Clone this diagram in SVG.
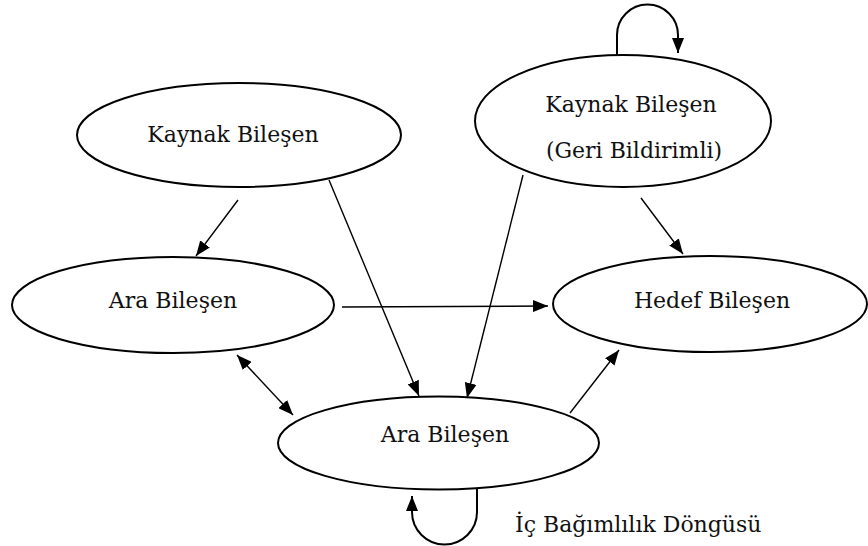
<svg xmlns="http://www.w3.org/2000/svg" width="868" height="546" viewBox="0 0 868 546">
  <style>
    .node { fill: #ffffff; stroke: #000000; stroke-width: 2; }
    .edge { fill: none; stroke: #000000; stroke-width: 1.4; marker-end: url(#arrow); }
    .loop { fill: none; stroke: #000000; stroke-width: 2; marker-end: url(#arrow); }
  </style>
  <defs>
    <marker id="arrow" viewBox="0 0 15 12" refX="15" refY="6" markerWidth="15" markerHeight="12" markerUnits="userSpaceOnUse" orient="auto-start-reverse">
      <path d="M0,0 L15,6 L0,12 z" fill="#000000"/>
    </marker>
  </defs>

  <rect width="868" height="546" fill="#ffffff"/>

  <g font-family="'DejaVu Serif', 'Liberation Serif', serif" font-size="22" fill="#111111" text-anchor="middle">
    <!-- components -->
    <g id="kaynak">
      <ellipse class="node" cx="239" cy="135" rx="162" ry="52"/>
      <text x="233" y="142">Kaynak Bileşen</text>
    </g>
    <g id="kaynak-geri">
      <ellipse class="node" cx="623" cy="121" rx="148" ry="66"/>
      <text x="631" y="112">Kaynak Bileşen</text>
      <text x="634" y="158">(Geri Bildirimli)</text>
    </g>
    <g id="ara-sol">
      <ellipse class="node" cx="173" cy="305" rx="161" ry="48"/>
      <text x="173" y="308">Ara Bileşen</text>
    </g>
    <g id="hedef">
      <ellipse class="node" cx="710" cy="304" rx="157" ry="48"/>
      <text x="712" y="308">Hedef Bileşen</text>
    </g>
    <g id="ara-alt">
      <ellipse class="node" cx="438.5" cy="443" rx="160.5" ry="46.5"/>
      <text x="445" y="442">Ara Bileşen</text>
    </g>

    <!-- connectors -->
    <g id="connectors">
      <line class="edge" x1="238" y1="200" x2="196" y2="256"/>
      <line class="edge" x1="329" y1="180" x2="419" y2="396"/>
      <line class="edge" x1="523" y1="175" x2="467" y2="398"/>
      <line class="edge" x1="641" y1="198" x2="683" y2="254"/>
      <line class="edge" x1="342" y1="307" x2="548" y2="306"/>
      <line class="edge" x1="237" y1="355" x2="293" y2="415" style="marker-start: url(#arrow)"/>
      <line class="edge" x1="570" y1="413" x2="619" y2="350"/>
      <path class="loop" d="M617,55 L617,35 A30.5,30.5 0 0 1 678,35 L678,53"/>
      <path class="loop" d="M477,489 L477,512 A32.5,32.5 0 0 1 412,512 L412,496"/>
    </g>

    <text x="515" y="532" text-anchor="start">İç Bağımlılık Döngüsü</text>
  </g>
</svg>
